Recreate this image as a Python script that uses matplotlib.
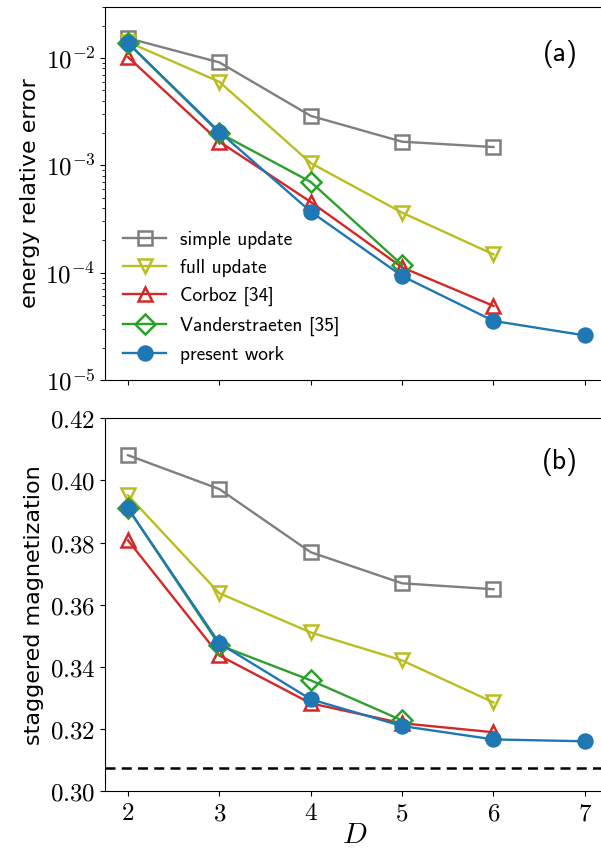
import numpy as np
import matplotlib
matplotlib.use("Agg")
import matplotlib.pyplot as plt
from matplotlib.ticker import FixedLocator, FuncFormatter, LogLocator, NullFormatter

plt.rcParams['mathtext.fontset'] = 'cm'

D = [2, 3, 4, 5, 6, 7]

# energy relative error
err_simple = [0.0153, 0.0091, 0.00289, 0.00166, 0.00148]
err_full = [0.0141, 0.0060, 0.00105, 0.000362, 0.000148]
err_corboz = [0.0102, 0.00166, 0.000456, 0.000112, 4.9e-5]
err_vander = [0.0138, 0.0020, 0.00070, 0.000118]
err_present = [0.0138, 0.00205, 0.00037, 9.3e-5, 3.55e-5, 2.6e-5]

# staggered magnetization
m_simple = [0.4081, 0.3972, 0.3769, 0.3669, 0.3650]
m_full = [0.3952, 0.3637, 0.3511, 0.3421, 0.3286]
m_corboz = [0.3807, 0.3437, 0.3283, 0.3219, 0.3190]
m_vander = [0.3910, 0.3470, 0.3357, 0.3228]
m_present = [0.3910, 0.3476, 0.3296, 0.3210, 0.3167, 0.3161]
m_exact = 0.3074

labels = ['simple update', 'full update', 'Corboz [34]', 'Vanderstraeten [35]', 'present work']
colors = ['#7f7f7f', '#bcbd22', '#d62728', '#2ca02c', '#1f77b4']
markers = ['s', 'v', '^', 'D', 'o']

fig = plt.figure(figsize=(6.01, 8.5), dpi=100)
ax1 = fig.add_axes([0.175, 0.553, 0.83, 0.439])
ax2 = fig.add_axes([0.175, 0.069, 0.83, 0.439])

def draw(ax, series):
    for y, lab, c, mk in zip(series, labels, colors, markers):
        filled = mk == 'o'
        ms = {'o': 10, 'D': 10.5, 's': 10, 'v': 10.5, '^': 10.5}[mk]
        ax.plot(D[:len(y)], y, color=c, marker=mk, ms=ms, lw=1.7,
                mfc=c if filled else 'none', mew=1.8, label=lab)

draw(ax1, [err_simple, err_full, err_corboz, err_vander, err_present])
draw(ax2, [m_simple, m_full, m_corboz, m_vander, m_present])
ax2.axhline(m_exact, color='k', ls='--', lw=1.8, dashes=(4, 2.5))

for ax in (ax1, ax2):
    ax.set_xlim(1.75, 7.21)
    ax.spines['right'].set_visible(False)
    ax.xaxis.set_major_locator(FixedLocator(D))
    ax.tick_params(labelsize=18)

ax1.set_yscale('log')
ax1.set_ylim(1e-5, 3e-2)
ax1.yaxis.set_major_locator(LogLocator(base=10, numticks=10))
ax1.yaxis.set_major_formatter(FuncFormatter(lambda v, p: r'$10^{%d}$' % round(np.log10(v))))
ax1.yaxis.set_minor_formatter(NullFormatter())
ax1.tick_params(labelbottom=False)
ax1.set_ylabel('energy relative error', fontsize=16)

ax2.set_ylim(0.30, 0.42)
ax2.yaxis.set_major_locator(FixedLocator(np.arange(0.30, 0.421, 0.02)))
ax2.yaxis.set_major_formatter(FuncFormatter(lambda v, p: r'$%.2f$' % v))
ax2.xaxis.set_major_formatter(FuncFormatter(lambda v, p: r'$%d$' % v))
ax2.set_ylabel('staggered magnetization', fontsize=16)
ax2.set_xlabel(r'$D$', fontsize=21, labelpad=-3)

ax1.text(0.912, 0.874, '(a)', transform=ax1.transAxes, fontsize=20,
         family='cmss10', ha='center', va='center')
ax2.text(0.912, 0.882, '(b)', transform=ax2.transAxes, fontsize=20,
         family='cmss10', ha='center', va='center')

leg = ax1.legend(loc='upper left', bbox_to_anchor=(0.036, 0.40), frameon=False,
                 prop={'family': 'cmss10', 'size': 14}, numpoints=1,
                 handlelength=2.2, handletextpad=0.75, labelspacing=0.52,
                 borderpad=0, borderaxespad=0)

fig.savefig('out.png', dpi=100)
